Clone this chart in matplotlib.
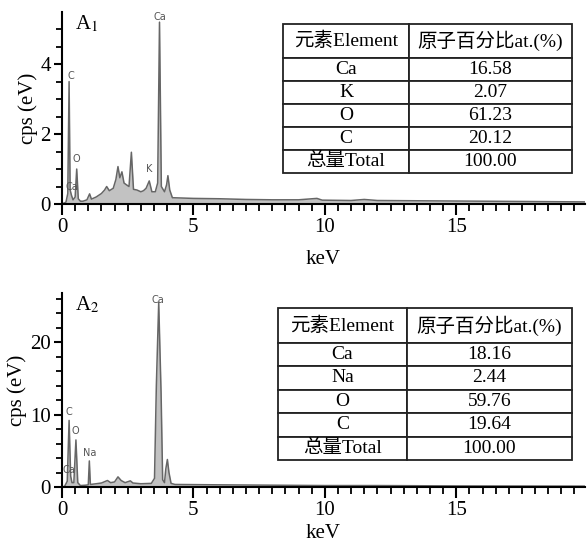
import matplotlib
matplotlib.use("Agg")
import matplotlib.pyplot as plt
from matplotlib.ticker import MultipleLocator

plt.rcParams['font.family'] = ['Liberation Serif', 'Noto Sans CJK SC']
plt.rcParams['mathtext.fontset'] = 'stix'

# ---------------- data ----------------
# Spectrum A1 (keV, cps)
a1_kev = [0.00, 0.05, 0.15, 0.22, 0.27, 0.31, 0.36, 0.42, 0.50, 0.56, 0.62, 0.70, 0.80, 0.95,
          1.05, 1.12, 1.30, 1.50, 1.62, 1.70, 1.80, 1.95, 2.05, 2.13, 2.20, 2.28, 2.36, 2.45,
          2.55, 2.64, 2.72, 2.85, 3.00, 3.10, 3.20, 3.32, 3.42, 3.55, 3.64, 3.71, 3.78, 3.90,
          3.98, 4.03, 4.10, 4.20, 5.0, 6.0, 7.0, 8.0, 9.0, 9.7, 9.9, 11.0, 11.5, 12.0, 14.0,
          16.0, 18.0, 19.9]
a1_cps = [0.00, 0.02, 0.05, 0.30, 3.50, 0.40, 0.25, 0.12, 0.20, 1.00, 0.15, 0.08, 0.08, 0.12,
          0.29, 0.14, 0.20, 0.30, 0.40, 0.50, 0.38, 0.45, 0.70, 1.07, 0.75, 0.92, 0.60, 0.55,
          0.50, 1.48, 0.42, 0.40, 0.35, 0.38, 0.45, 0.66, 0.35, 0.35, 0.60, 5.20, 0.50, 0.35,
          0.55, 0.81, 0.40, 0.18, 0.16, 0.15, 0.13, 0.12, 0.12, 0.16, 0.11, 0.10, 0.13, 0.10,
          0.09, 0.08, 0.07, 0.06]

# Spectrum A2 (keV, cps)
a2_kev = [0.00, 0.10, 0.20, 0.27, 0.33, 0.38, 0.45, 0.53, 0.60, 0.70, 0.90, 1.00, 1.04, 1.08,
          1.30, 1.50, 1.73, 1.85, 2.00, 2.13, 2.25, 2.40, 2.60, 2.70, 3.00, 3.40, 3.52, 3.59,
          3.68, 3.77, 3.83, 3.90, 3.95, 4.01, 4.07, 4.15, 4.30, 6.0, 8.0, 10.0, 12.0, 15.0, 19.9]
a2_cps = [0.0, 0.1, 0.8, 9.2, 1.5, 0.6, 0.6, 6.5, 0.6, 0.2, 0.25, 0.3, 3.6, 0.35,
          0.45, 0.55, 0.9, 0.6, 0.7, 1.4, 0.9, 0.6, 0.85, 0.55, 0.45, 0.5, 1.2, 14.0,
          25.5, 13.0, 1.0, 0.6, 2.5, 3.8, 2.0, 0.5, 0.35, 0.3, 0.25, 0.2, 0.2, 0.15, 0.12]

# Peak labels (text, keV, cps)
a1_labels = ["C", "O", "Ca", "K", "Ca"]
a1_label_x = [0.32, 0.53, 0.38, 3.33, 3.73]
a1_label_y = [3.66, 1.29, 0.50, 1.00, 5.35]
a2_labels = ["C", "O", "Na", "Ca", "Ca"]
a2_label_x = [0.27, 0.51, 1.06, 0.27, 3.64]
a2_label_y = [10.4, 7.7, 4.7, 2.3, 25.9]

# Tables
header = ["元素Element", "原子百分比at.(%)"]
t1_elements = ["Ca", "K", "O", "C", "总量Total"]
t1_values = ["16.58", "2.07", "61.23", "20.12", "100.00"]
t2_elements = ["Ca", "Na", "O", "C", "总量Total"]
t2_values = ["18.16", "2.44", "59.76", "19.64", "100.00"]

W, H = 587, 544
fig = plt.figure(figsize=(W / 100, H / 100), dpi=100)


def px_axes(x0, y0, x1, y1):
    return fig.add_axes([x0 / W, 1 - y1 / H, (x1 - x0) / W, (y1 - y0) / H])


def spectrum(ax, kev, cps, ymax, ymajor, yminor, labels, lx, ly, tag, xlabelpad):
    ax.fill_between(kev, cps, 0, color="#c2c2c2", lw=0)
    ax.plot(kev, cps, color="#666666", lw=1.1)
    ax.set_xlim(0, 19.9)
    ax.set_ylim(0, ymax)
    for s in ["top", "right"]:
        ax.spines[s].set_visible(False)
    for s in ["left", "bottom"]:
        ax.spines[s].set_linewidth(1.5)
    ax.xaxis.set_major_locator(MultipleLocator(5))
    ax.xaxis.set_minor_locator(MultipleLocator(0.5))
    ax.yaxis.set_major_locator(MultipleLocator(ymajor))
    ax.yaxis.set_minor_locator(MultipleLocator(yminor))
    ax.tick_params(axis="x", which="major", length=8, width=1.5, labelsize=15, pad=2)
    ax.tick_params(axis="x", which="minor", length=5, width=1.3)
    ax.tick_params(axis="y", which="major", length=6, width=1.5, labelsize=15, pad=2)
    ax.tick_params(axis="y", which="minor", length=4, width=1.3)
    ax.set_xlabel("keV", fontsize=15, labelpad=xlabelpad)
    ax.set_ylabel("cps (eV)", fontsize=15, labelpad=2)
    for t, x, y in zip(labels, lx, ly):
        ax.text(x, y, t, fontsize=7, color="#555555", family="DejaVu Sans",
                ha="center", va="center")
    ax.text(0.025, 0.94, tag, transform=ax.transAxes, fontsize=15, ha="left", va="center")
    ax.patch.set_alpha(0)


ax1 = px_axes(62, 12, 585, 204)
spectrum(ax1, a1_kev, a1_cps, 5.49, 2, 0.5, a1_labels, a1_label_x, a1_label_y, r"A$_1$", 9.5)
ax2 = px_axes(62, 293, 585, 487)
spectrum(ax2, a2_kev, a2_cps, 26.8, 10, 2, a2_labels, a2_label_x, a2_label_y, r"A$_2$", 3.0)


def draw_table(x0, y0, x1, y1, xdiv, elements, values):
    tax = px_axes(x0, y0, x1, y1)
    tax.axis("off")
    rows = [header] + [[e, v] for e, v in zip(elements, values)]
    tbl = tax.table(cellText=rows, cellLoc="center", bbox=[0, 0, 1, 1])
    tbl.auto_set_font_size(False)
    w0 = xdiv - x0
    w1 = x1 - xdiv
    for (r, c), cell in tbl.get_celld().items():
        cell.set_height(34 if r == 0 else 23)
        cell.set_width(w0 if c == 0 else w1)
        cell.set_linewidth(1.3)
        cell.set_edgecolor("#222222")
        cell.get_text().set_fontsize(14)
        cell.PAD = 0.02
    return tbl


draw_table(283, 24, 572, 173, 409, t1_elements, t1_values)
draw_table(278, 308, 572, 460, 407, t2_elements, t2_values)

fig.savefig("out.png", dpi=100)
